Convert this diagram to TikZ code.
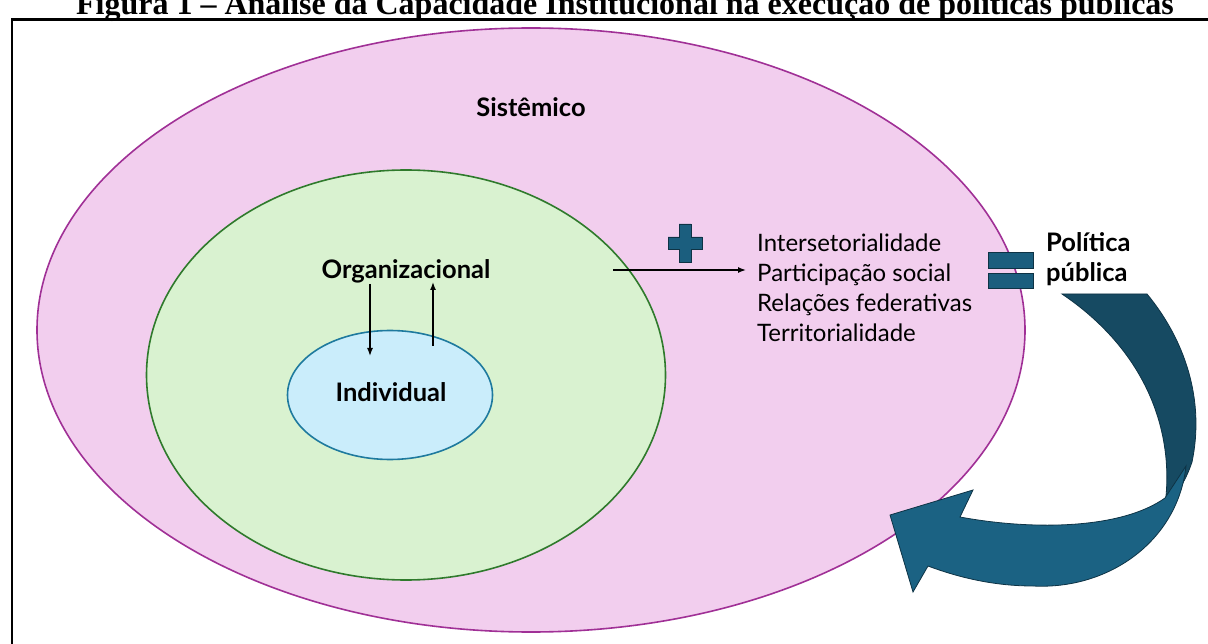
\documentclass[tikz,border=0pt]{standalone}
\usepackage{fontspec}
\setmainfont{Lato}
\newfontfamily\titlefont{Liberation Serif}
\usetikzlibrary{shapes.geometric,arrows.meta}
\definecolor{pinkfill}{HTML}{F2CEEE}
\definecolor{pinkline}{HTML}{A03096}
\definecolor{greenfill}{HTML}{D9F2D0}
\definecolor{greenline}{HTML}{2F7A2C}
\definecolor{bluefill}{HTML}{CAEDFB}
\definecolor{blueline}{HTML}{1E7A9E}
\definecolor{tealA}{HTML}{1B5E7E}
\definecolor{tealDark}{HTML}{164A62}
\definecolor{tealLight}{HTML}{1B6283}
\definecolor{tealEdge}{HTML}{0E3345}
\tikzset{
  ring/.style={ellipse, inner sep=0pt, line width=1.6pt},
  lab/.style={inner sep=0pt, anchor=base, font=\fontsize{25.5}{30}\selectfont\bfseries},
  item/.style={inner sep=0pt, anchor=base west, font=\fontsize{24}{28}\selectfont},
  arr/.style={line width=1.4pt, -{Latex[length=8pt,width=6pt]}},
  sym/.style={fill=tealA, draw=tealEdge, line width=0.8pt},
}
\begin{document}
\begin{tikzpicture}[x=1pt,y=-1pt]
\useasboundingbox (0,0) rectangle (1208,644);
% title and frame
\node[inner sep=0pt, anchor=base, font=\titlefont\fontsize{32}{36}\selectfont\bfseries] (title) at (625,15)
  {Figura 1 – Análise da Capacidade Institucional na execução de políticas públicas};
\draw[line width=2.4pt] (12,660) -- (12,19.5) -- (1220,19.5);
% ellipses
\node[ring, draw=pinkline, fill=pinkfill, minimum width=988pt, minimum height=604pt] (sis) at (531,330) {};
\node[ring, draw=greenline, fill=greenfill, minimum width=519pt, minimum height=410pt] (org) at (406,375) {};
\node[ring, draw=blueline, fill=bluefill, minimum width=205pt, minimum height=129pt] (ind) at (390,395) {};
% labels
\node[lab] (tsis) at (531,117) {Sistêmico};
\node[lab] (torg) at (406,279) {Organizacional};
\node[lab] (tind) at (391,402) {Individual};
% arrows between organizational and individual
\coordinate (d0) at (370,284);
\coordinate (d1) at (370,356);
\coordinate (u0) at (433,346);
\coordinate (u1) at (433,282);
\draw[arr] (d0) -- (d1);
\draw[arr] (u0) -- (u1);
% list
\node[item] (l1) at (757,252) {Intersetorialidade};
\node[item] (l2) at (757,282) {Participação social};
\node[item] (l3) at (757,312) {Relações federativas};
\node[item] (l4) at (757,342) {Territorialidade};
\coordinate (a0) at (613,270);
\coordinate (a1) at (746,270);
\draw[arr] (a0) -- (a1);
% plus sign
\draw[sym] (679,224) -- (691,224) -- (691,237) -- (702,237) -- (702,249) -- (691,249) -- (691,262)
  -- (679,262) -- (679,249) -- (668,249) -- (668,237) -- (679,237) -- cycle;
% equal sign
\draw[sym] (988,252) rectangle (1033,268);
\draw[sym] (988,273) rectangle (1033,288);
% politica publica
\node[lab, anchor=base west] (p1) at (1046,252) {Política};
\node[lab, anchor=base west] (p2) at (1046,282) {pública};
% curved block arrow
\draw[fill=tealDark, draw=tealEdge, line width=0.8pt]
  (1062,294) -- (1147,294) .. controls (1185,340) and (1205,400) .. (1192,462)
  .. controls (1186,480) and (1177,495) .. (1165,505)
  .. controls (1175,430) and (1145,350) .. (1062,294) -- cycle;
\draw[fill=tealLight, draw=tealEdge, line width=0.8pt]
  (1186,466) .. controls (1178,540) and (1110,590) .. (1033,586)
  .. controls (995,586) and (960,578) .. (928,566)
  -- (913,592) -- (890,515) -- (973,490) -- (960,517)
  .. controls (1030,530) and (1120,530) .. (1165,498) -- cycle;
\end{tikzpicture}
\end{document}
